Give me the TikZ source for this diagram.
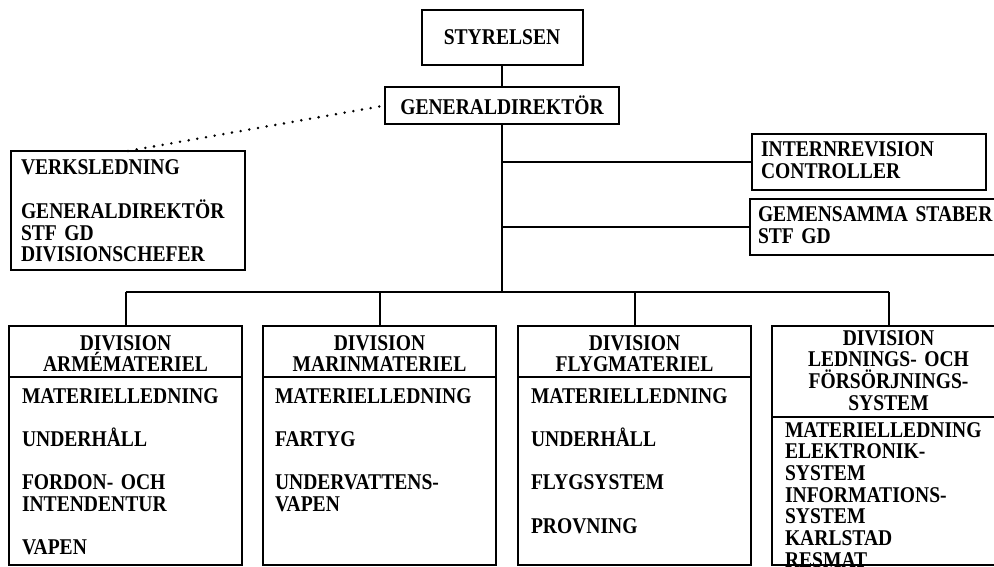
\documentclass[tikz,border=0pt]{standalone}
\usepackage{fontspec}
\setmainfont{Liberation Serif}[FakeStretch=0.87]
\usetikzlibrary{positioning}

\begin{document}
\begin{tikzpicture}[
    x=1pt,
    y=-1pt,
    every node/.style={
        font=\bfseries\fontsize{22.5}{21.7}\selectfont,
        outer sep=0pt
    },
    topbox/.style={
        rectangle,
        draw=black,
        line width=2pt,
        inner sep=0pt,
        text centered
    },
    staffbox/.style={
        rectangle,
        draw=black,
        line width=2pt,
        inner xsep=9pt,
        inner ysep=0pt,
        align=left,
        anchor=north west
    },
    divhead/.style={
        rectangle,
        draw=black,
        line width=2pt,
        text width=233pt,
        inner sep=0pt,
        align=center,
        anchor=north west,
        text height=24pt,
        text depth=27pt
    },
    divbody/.style={
        rectangle,
        draw=black,
        line width=2pt,
        text width=207pt,
        inner xsep=13pt,
        inner ysep=0pt,
        align=left,
        text height=26pt,
        text depth=162pt
    },
    link/.style={
        line width=2pt
    },
    dots/.style={
        line width=2.8pt,
        line cap=round,
        dash pattern=on 0pt off 8.8pt
    }
]
\useasboundingbox (0,0) rectangle (994,567);
% TOP
\node (styr) [topbox, minimum width=161pt, minimum height=55pt] at (502,37.5) {STYRELSEN};
\node (gd) [topbox, minimum width=234pt, minimum height=37pt] at (502,105.5) {GENERALDIREKTÖR};
% STAFF BOXES
\node (verk) [staffbox, inner xsep=10pt, text width=214pt, text height=24pt, text depth=95pt] at (11,151)
    {VERKSLEDNING\\[21.7pt]GENERALDIREKTÖR\\STF GD\\DIVISIONSCHEFER};
\node (intrev) [staffbox, text width=216pt, text height=23pt, text depth=33pt] at (752,134)
    {INTERNREVISION\\CONTROLLER};
\node (gemstab) [staffbox, inner xsep=8pt, text width=240pt, text height=23pt, text depth=33pt] at (750,199)
    {GEMENSAMMA STABER\\STF GD};
% DIVISIONS
\node (armhead) [divhead] at (9,326) {DIVISION\\ARMÉMATERIEL};
\node (armbody) [divbody, below=0pt of armhead]
    {MATERIELLEDNING\\[21.7pt]UNDERHÅLL\\[21.7pt]FORDON- OCH\\INTENDENTUR\\[21.7pt]VAPEN};
\node (marhead) [divhead] at (263,326) {DIVISION\\MARINMATERIEL};
\node (marbody) [divbody, inner xsep=12pt, text width=209pt, below=0pt of marhead]
    {MATERIELLEDNING\\[21.7pt]FARTYG\\[21.7pt]UNDERVATTENS-\\VAPEN};
\node (flyhead) [divhead] at (518,326) {DIVISION\\FLYGMATERIEL};
\node (flybody) [divbody, below=0pt of flyhead]
    {MATERIELLEDNING\\[21.7pt]UNDERHÅLL\\[21.7pt]FLYGSYSTEM\\[21.7pt]PROVNING};
\node (lfshead) [divhead, text height=19pt, text depth=72pt] at (772,326)
    {DIVISION\\LEDNINGS- OCH\\FÖRSÖRJNINGS-\\SYSTEM};
\node (lfsbody) [divbody, text height=20pt, text depth=128pt, below=0pt of lfshead]
    {MATERIELLEDNING\\ELEKTRONIK-\\SYSTEM\\INFORMATIONS-\\SYSTEM\\KARLSTAD\\RESMAT};
% TRUNK
\coordinate (trunk) at (502,292);
\draw [link] (styr.south) -- (gd.north);
\draw [link] (gd.south) -- (trunk);
\draw [link] (gd.south |- intrev.west) -- (intrev.west);
\draw [link] (gd.south |- gemstab.west) -- (gemstab.west);
% DIVISION BUS
\draw [link] (armhead.north |- trunk) -- (lfshead.north |- trunk);
\foreach \d in {armhead, marhead, flyhead, lfshead}
    \draw [link] (\d.north |- trunk) -- (\d.north);
% DOTTED LINK
\draw [dots] (verk.north) -- (gd.west);
\end{tikzpicture}
\end{document}
